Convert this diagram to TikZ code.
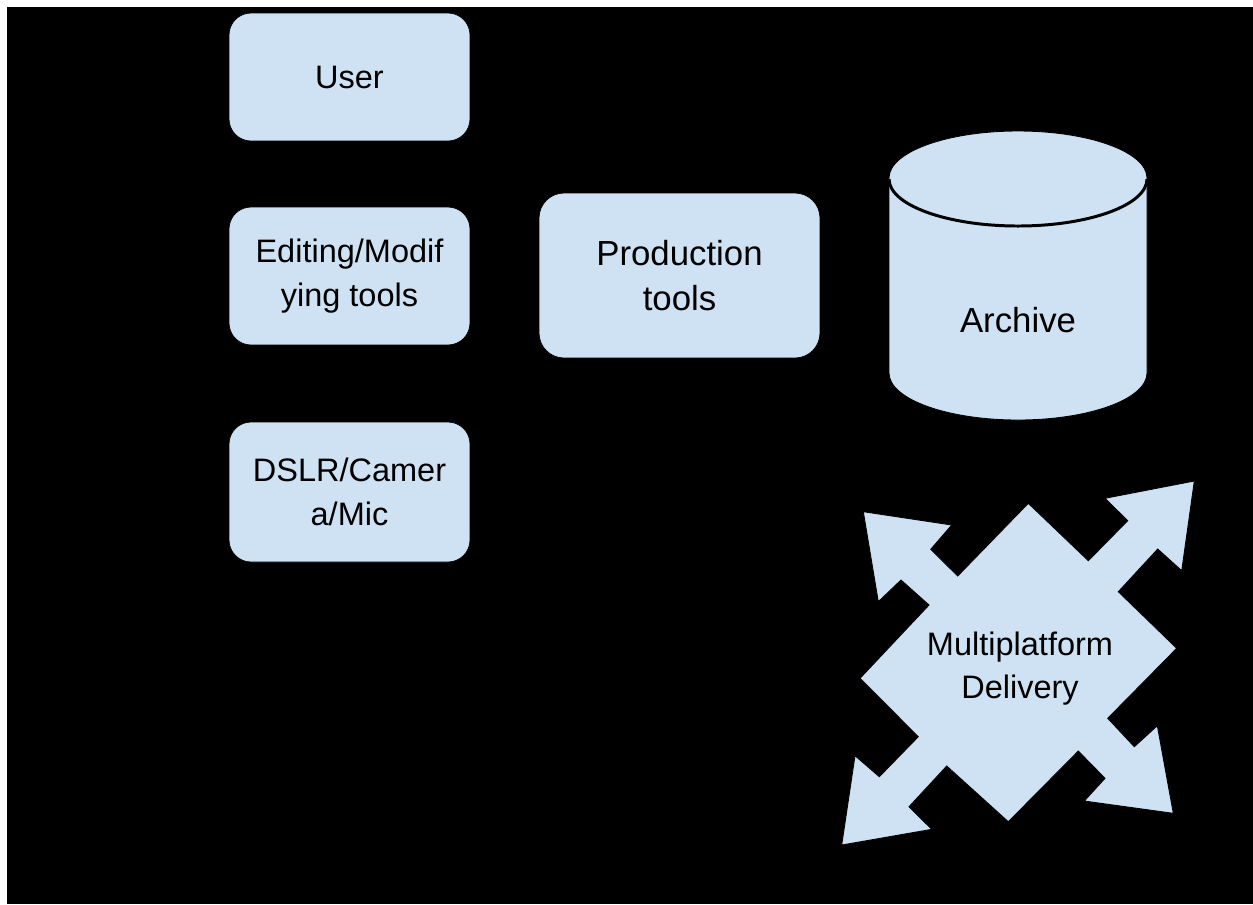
\documentclass[tikz,border=0pt]{standalone}
\usepackage{fontspec}
\setmainfont{Liberation Sans}
\definecolor{boxblue}{HTML}{CFE2F3}
\tikzset{
  box/.style={draw=black, fill=boxblue, rounded corners=0.44cm, align=center,
    inner sep=0pt, font=\fontsize{18.5}{25}\selectfont},
  bigtext/.style={align=center, font=\fontsize{19.8}{26}\selectfont},
  solid/.style={draw=black, fill=boxblue, line width=0.5pt},
}
\begin{document}
\begin{tikzpicture}[x=0.02cm, y=-0.02cm]
  \fill[white] (0,0) rectangle (1253,904);
  \fill[black] (7,7) rectangle (1253,904);
  % left column
  \node[box, minimum width=4.82cm, minimum height=2.56cm] (user) at (349.5,77) {User};
  \node[box, minimum width=4.82cm, minimum height=2.76cm] (editing) at (349.5,276) {Editing/Modif\\ying tools};
  \node[box, minimum width=4.82cm, minimum height=2.80cm] (dslr) at (349.5,492) {DSLR/Camer\\a/Mic};
  \node[box, bigtext, rounded corners=0.5cm, minimum width=5.62cm, minimum height=3.30cm] (production) at (679.5,275.5) {Production\\tools};
  % archive
  \draw[solid] (889,178) -- (889,373) arc (180:0:129 and 47) -- (1147,178) arc (0:-180:129 and 47) -- cycle;
  \draw[line width=1.7pt] (889,179) arc (180:0:129 and 47);
  \node[bigtext] (archive) at (1018,320) {Archive};
  % delivery
  \draw[solid] (1028.3,503.3) -- (1088.3,560.7) -- (1127.7,520.7) -- (1105,498.3)
    -- (1194.3,481) -- (1181.7,570.7) -- (1157.7,549) -- (1118.3,591.7)
    -- (1176.7,648.3) -- (1107.7,718.3) -- (1134.3,746.7) -- (1157.3,725.7)
    -- (1173.3,813.3) -- (1084.3,801) -- (1105,778.3) -- (1078.3,751)
    -- (1008.3,821.7) -- (946.7,766) -- (909,806.7) -- (931.7,829.3)
    -- (841.7,845) -- (855,755.7) -- (879.3,776.7) -- (918.3,736.7)
    -- (860,678.3) -- (929,605) -- (901,580) -- (878.3,601.7)
    -- (863.3,511.7) -- (951.7,525) -- (930.7,549.3) -- (957.7,576) -- cycle;
  \node[align=center, font=\fontsize{18.5}{24.4}\selectfont] (delivery) at (1020,669) {Multiplatform\\Delivery};
\end{tikzpicture}
\end{document}
